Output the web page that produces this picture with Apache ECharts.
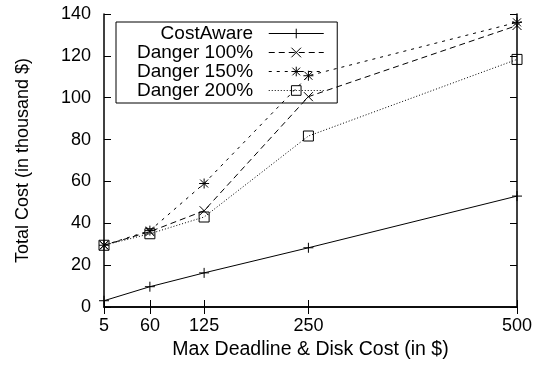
<!DOCTYPE html>
<html>
<head>
<meta charset="utf-8">
<script src="https://cdn.jsdelivr.net/npm/echarts@6/dist/echarts.min.js"></script>
<style>
html, body { margin: 0; padding: 0; background: #fff; }
#chart { width: 539px; height: 367px; }
</style>
</head>
<body>
<div id="chart"></div>
<script>
// x categories (max deadline & disk cost, $)
var xCosts = [5, 60, 125, 250, 500];
// total cost, thousand $
var costAware = [3, 9.7, 16.3, 28.3, 53];
var danger100 = [29.5, 36, 46, 100.5, 134.5];
var danger150 = [29.5, 36.5, 59, 110.5, 136];
var danger200 = [29.5, 35, 43, 81.7, 118.3];
var yTicks = [0, 20, 40, 60, 80, 100, 120, 140];

var FONT = 'Liberation Sans';

function pairs(vals) {
	var out = [];
	for (var i = 0; i < xCosts.length; i++) {
		out.push([xCosts[i], vals[i]]);
	}
	return out;
}

// marker shapes (stroked)
var plusSym = 'path://M0,5L10,5M5,0L5,10';
var crossSym = 'path://M0,0L10,10M10,0L0,10';
var starSym = 'path://M0,5L10,5M5,0L5,10M1,1L9,9M9,1L1,9';
var boxSym = 'path://M0,0L10,0L10,10L0,10Z';

function mkSeries(name, vals, sym, size, dash) {
	return {
		name: name,
		type: 'line',
		data: pairs(vals),
		symbol: sym,
		symbolSize: size,
		showAllSymbol: true,
		clip: false,
		lineStyle: { color: '#000', width: 1, type: dash },
		itemStyle: { color: 'none', borderColor: '#000', borderWidth: 1 },
		emphasis: { disabled: true },
		animation: false
	};
}

var myChart = echarts.init(document.getElementById('chart'));
var axisLine = { show: true, lineStyle: { color: '#000', width: 1.5 } };
var tickStyle = { color: '#000', width: 1 };

var option = {
	backgroundColor: '#fff',
	animation: false,
	grid: { left: 104, right: 22, top: 14, bottom: 60 },
	legend: {
		orient: 'vertical',
		left: 116,
		top: 22,
		align: 'right',
		itemWidth: 55,
		itemHeight: 12,
		itemGap: 0,
		padding: [2, 13, 3, 21],
		borderColor: '#000',
		borderWidth: 1,
		lineStyle: { width: 1 },
		itemStyle: { borderWidth: 1, color: 'none', borderColor: '#000' },
		formatter: function(n) { return n + '  '; },
		textStyle: { fontFamily: FONT, fontSize: 19, color: '#000', lineHeight: 19 },
		data: ['CostAware', 'Danger 100%', 'Danger 150%', 'Danger 200%']
	},
	xAxis: [{
		type: 'value', min: 5, max: 500,
		name: 'Max Deadline & Disk Cost (in $)',
		nameLocation: 'middle', nameGap: 32,
		nameTextStyle: { fontFamily: FONT, fontSize: 19.5, color: '#000' },
		axisLine: axisLine,
		axisTick: { show: true, inside: true, length: 7, lineStyle: tickStyle, customValues: xCosts },
		axisLabel: { fontFamily: FONT, fontSize: 18, color: '#000', margin: 10, customValues: xCosts },
		splitLine: { show: false }
	}, {
		type: 'value', min: 5, max: 500, position: 'top',
		axisLine: axisLine,
		axisTick: { show: true, inside: true, length: 7, lineStyle: tickStyle, customValues: xCosts },
		axisLabel: { show: false },
		splitLine: { show: false }
	}],
	yAxis: [{
		type: 'value', min: 0, max: 140, interval: 20,
		name: 'Total Cost (in thousand $)',
		nameLocation: 'middle', nameGap: 72,
		nameTextStyle: { fontFamily: FONT, fontSize: 18, color: '#000' },
		axisLine: axisLine,
		axisTick: { show: true, inside: true, length: 7, lineStyle: tickStyle, customValues: yTicks },
		axisLabel: { fontFamily: FONT, fontSize: 18, color: '#000', margin: 13, customValues: yTicks },
		splitLine: { show: false }
	}, {
		type: 'value', min: 0, max: 140, interval: 20, position: 'right',
		axisLine: axisLine,
		axisTick: { show: true, inside: true, length: 7, lineStyle: tickStyle },
		axisLabel: { show: false },
		splitLine: { show: false }
	}],
	series: [
		mkSeries('CostAware', costAware, plusSym, 10, 'solid'),
		mkSeries('Danger 100%', danger100, crossSym, 9, [6, 4]),
		mkSeries('Danger 150%', danger150, starSym, 10, [3, 5]),
		mkSeries('Danger 200%', danger200, boxSym, 10, [1, 2])
	]
};
myChart.setOption(option);
</script>
</body>
</html>
